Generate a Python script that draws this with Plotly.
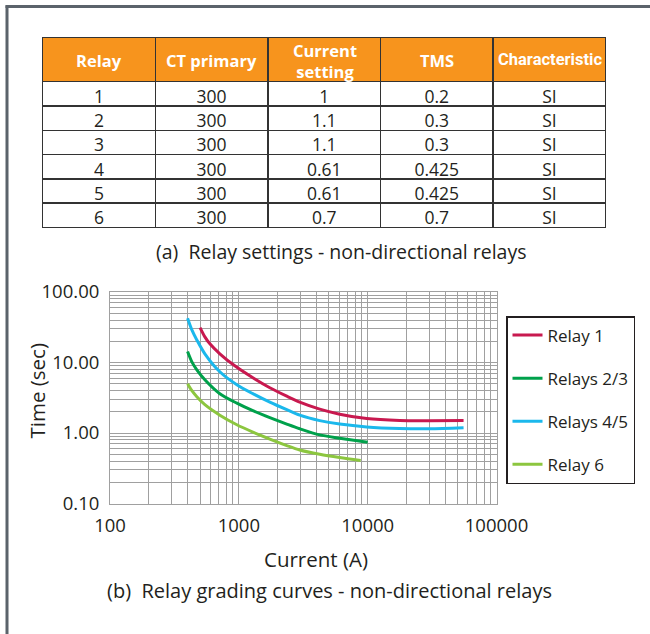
import plotly.graph_objects as go

# ---------------- data ----------------
relay_ids = ["1", "2", "3", "4", "5", "6"]
ct_primary = ["300", "300", "300", "300", "300", "300"]
current_setting = ["1", "1.1", "1.1", "0.61", "0.61", "0.7"]
tms = ["0.2", "0.3", "0.3", "0.425", "0.425", "0.7"]
characteristic = ["SI", "SI", "SI", "SI", "SI", "SI"]
table_headers = ["Relay", "CT primary", "Current<br>setting", "TMS", "Characteristic"]

relay1_current = [500, 545, 596, 712, 930, 1285, 1740, 2355, 2970, 4245, 6065, 9820, 17700, 30200, 55500]
relay1_time = [31.3, 23.1, 18.4, 13.3, 8.98, 6.08, 4.39, 3.33, 2.74, 2.18, 1.85, 1.60, 1.50, 1.49, 1.50]

relay23_current = [400, 432, 472, 545, 712, 965, 1285, 1740, 2355, 2970, 4245, 6065, 10000]
relay23_time = [14.3, 10.2, 7.88, 5.69, 3.61, 2.65, 2.07, 1.65, 1.34, 1.15, 0.94, 0.845, 0.739]

relay45_current = [400, 432, 472, 545, 712, 965, 1285, 1740, 2355, 2970, 4245, 6065, 9820, 17700, 30200, 55500]
relay45_time = [42.5, 29.0, 20.9, 13.3, 7.39, 4.84, 3.61, 2.74, 2.14, 1.79, 1.50, 1.34, 1.22, 1.16, 1.15, 1.19]

relay6_current = [400, 432, 472, 545, 712, 965, 1285, 1740, 2355, 2970, 4245, 6065, 8830]
relay6_time = [5.0, 3.98, 3.27, 2.52, 1.79, 1.31, 1.03, 0.820, 0.664, 0.575, 0.500, 0.449, 0.407]

series_names = ["Relay 1", "Relays 2/3", "Relays 4/5", "Relay 6"]
series_colors = ["#C8194F", "#00A14B", "#1BB8EC", "#8CC63F"]

x_tickvals = [100, 1000, 10000, 100000]
x_ticktext = ["100", "1000", "10000", "100000"]
y_tickvals = [0.1, 1, 10, 100]
y_ticktext = ["0.10", "1.00", "10.00", "100.00"]

# ---------------- figure ----------------
W, H = 650, 634
FONT = "Open Sans"
TXT = "#231F20"
GRID = "#A0A0A0"


def px_x(p):
    return p / W


def px_y(p):
    return 1 - p / H


TBL_L, TBL_R, TBL_T = 42.7, 606.5, 37.3
HDR_H, ROW_H = 44.4, 24.3

fig = go.Figure()

fig.add_trace(go.Table(
    domain=dict(x=[px_x(TBL_L), px_x(TBL_R)], y=[px_y(232), px_y(TBL_T)]),
    columnwidth=[1, 1, 1, 1, 1],
    header=dict(
        values=["", "", "", "", ""],
        fill_color="#F7941D",
        font=dict(color="white", size=16),
        align="center",
        height=HDR_H,
        line=dict(color="#333333", width=1.5),
    ),
    cells=dict(
        values=[relay_ids, ct_primary, current_setting, tms, characteristic],
        fill_color="white",
        font=dict(color=TXT, size=17.5, family=FONT),
        align="center",
        height=ROW_H,
        line=dict(color="#333333", width=1.5),
    ),
))

# header labels, centred vertically inside the header cells
col_w = (TBL_R - TBL_L) / len(table_headers)
for i, h in enumerate(table_headers):
    narrow = h == "Characteristic"
    fig.add_annotation(
        x=px_x(TBL_L + (i + 0.5) * col_w), y=px_y(TBL_T + HDR_H / 2 + (0 if narrow else 1.5)),
        xref="paper", yref="paper", xanchor="center", yanchor="middle",
        showarrow=False, text="<b>%s</b>" % h, align="center",
        font=dict(color="white", size=16.5,
                  family="Roboto" if narrow else FONT),
    )

curves = [
    (relay1_current, relay1_time),
    (relay23_current, relay23_time),
    (relay45_current, relay45_time),
    (relay6_current, relay6_time),
]
for (xs, ys), name, col in zip(curves, series_names, series_colors):
    fig.add_trace(go.Scatter(
        x=xs, y=ys, mode="lines", name=name, legendgroup=name,
        line=dict(color=col, width=3, shape="spline", smoothing=0.8),
    ))

minor_x = [m * 10 ** d for d in (2, 3, 4) for m in range(2, 10)]
minor_y = [m * 10 ** d for d in (-1, 0, 1) for m in range(2, 10)]

fig.update_layout(
    width=W, height=H,
    margin=dict(l=0, r=0, t=0, b=0, autoexpand=False),
    paper_bgcolor="white", plot_bgcolor="white",
    font=dict(family=FONT, color=TXT, size=15),
    xaxis=dict(
        type="log", range=[2, 5],
        domain=[px_x(110), px_x(496.5)],
        tickvals=x_tickvals, ticktext=x_ticktext,
        showgrid=True, gridcolor=GRID, gridwidth=1,
        minor=dict(tickvals=minor_x, showgrid=True, gridcolor=GRID, gridwidth=1, ticks=""),
        showline=True, linecolor=GRID, linewidth=1, mirror=True,
        ticks="", tickfont=dict(size=18.5, color=TXT), ticklabelstandoff=5,
        zeroline=False, automargin=False,
    ),
    yaxis=dict(
        type="log", range=[-1, 2],
        domain=[px_y(503.5), px_y(292)],
        tickvals=y_tickvals, ticktext=y_ticktext,
        showgrid=True, gridcolor=GRID, gridwidth=1,
        minor=dict(tickvals=minor_y, showgrid=True, gridcolor=GRID, gridwidth=1, ticks=""),
        showline=True, linecolor=GRID, linewidth=1, mirror=True,
        ticks="", tickfont=dict(size=18.5, color=TXT), ticklabelstandoff=6,
        zeroline=False, automargin=False,
    ),
    legend=dict(
        x=px_x(506), y=px_y(316), xanchor="left", yanchor="top",
        bordercolor=TXT, borderwidth=1.5, bgcolor="white",
        font=dict(size=17, color=TXT, family=FONT),
        tracegroupgap=18, traceorder="grouped",
    ),
    showlegend=True,
)

# axis titles
fig.add_annotation(
    x=px_x(315.5), y=px_y(559), xref="paper", yref="paper",
    xanchor="center", yanchor="middle",
    text="Current (A)", showarrow=False, font=dict(size=20.5, color=TXT),
)
fig.add_annotation(
    x=px_x(36.5), y=px_y(391), xref="paper", yref="paper",
    xanchor="center", yanchor="middle",
    text="Time (sec)", textangle=-90, showarrow=False, font=dict(size=20.5, color=TXT),
)

# captions
fig.add_annotation(
    x=px_x(341), y=px_y(251), xref="paper", yref="paper",
    xanchor="center", yanchor="middle",
    text="(a)  Relay settings - non-directional relays",
    showarrow=False, font=dict(size=19.5, color=TXT),
)
fig.add_annotation(
    x=px_x(329.5), y=px_y(590), xref="paper", yref="paper",
    xanchor="center", yanchor="middle",
    text="(b)  Relay grading curves - non-directional relays",
    showarrow=False, font=dict(size=20, color=TXT),
)

# outer frame (top and left edges visible)
fig.add_shape(type="line", xref="paper", yref="paper",
              x0=px_x(7), x1=px_x(7), y0=px_y(660), y1=px_y(5.5),
              line=dict(color="#5B636B", width=3))
fig.add_shape(type="line", xref="paper", yref="paper",
              x0=px_x(5.5), x1=px_x(700), y0=px_y(6.5), y1=px_y(6.5),
              line=dict(color="#5B636B", width=3))

fig.write_html("out.html")
